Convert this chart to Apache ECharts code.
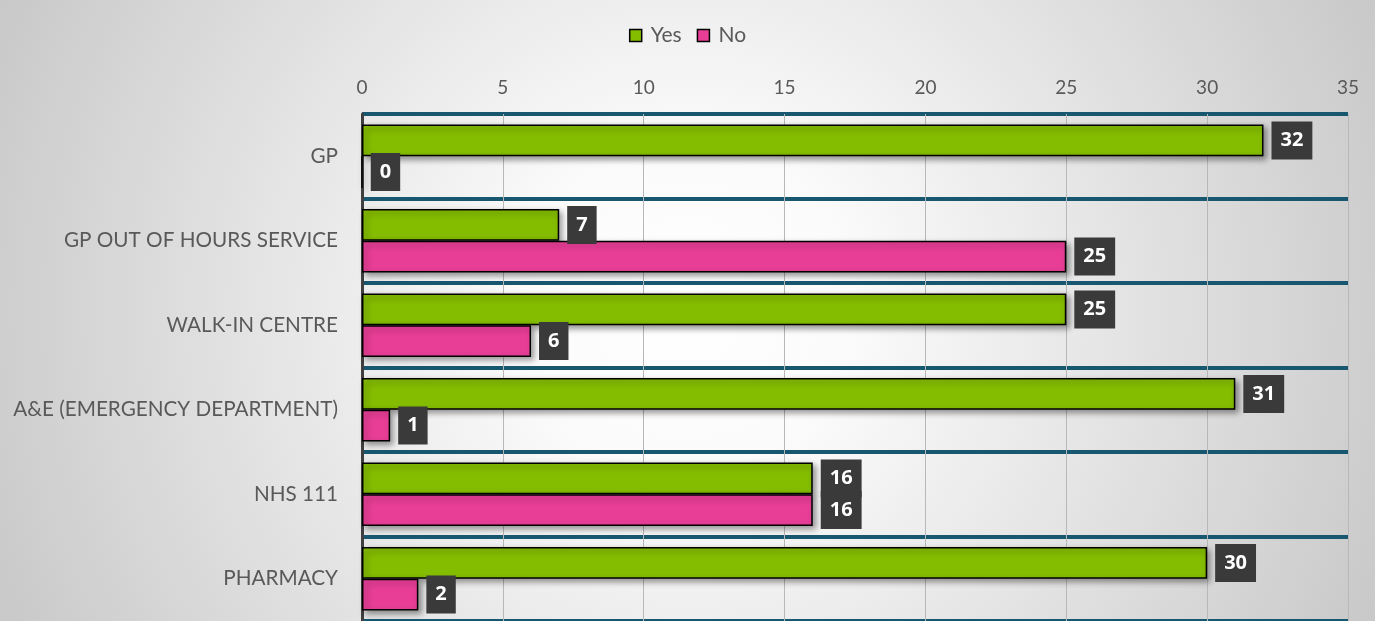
<!DOCTYPE html>
<html><head><meta charset="utf-8">
<script src="https://cdn.jsdelivr.net/npm/echarts@6/dist/echarts.min.js"></script>
<style>html,body{margin:0;padding:0;}#c{width:1375px;height:621px;}</style>
</head><body><div id="c"></div>
<script>
const categories = ['GP', 'GP OUT OF HOURS SERVICE', 'WALK-IN CENTRE', 'A&E (EMERGENCY DEPARTMENT)', 'NHS 111', 'PHARMACY'];
const yesValues = [32, 7, 25, 31, 16, 30];
const noValues = [0, 25, 6, 1, 16, 2];
const seriesNames = ['Yes', 'No'];
const xTicks = { min: 0, max: 35, interval: 5 };

const FONT = 'Lato, "Open Sans", sans-serif';
const label = {
  show: true, position: 'right', distance: 8,
  backgroundColor: '#3a3a3a', color: '#ffffff', fontWeight: 'bold',
  fontSize: 20, fontFamily: '"Open Sans", Lato, sans-serif', padding: [9, 9, 9, 9], lineHeight: 20
};
const barItem = (c) => ({
  color: c, borderColor: '#000', borderWidth: 1.5,
  shadowBlur: 6, shadowOffsetX: 3, shadowOffsetY: 3, shadowColor: 'rgba(0,0,0,0.4)'
});
const chart = echarts.init(document.getElementById('c'));
chart.setOption({
  backgroundColor: {
    type: 'radial', x: 0.5, y: 0.5, r: 1.3,
    colorStops: [{ offset: 0, color: '#ffffff' }, { offset: 0.2, color: '#fbfbfb' }, { offset: 1, color: '#c4c4c4' }]
  },
  animation: false,
  legend: {
    top: 20, left: 'center', itemWidth: 12, itemHeight: 12, itemGap: 15,
    icon: 'rect',
    itemStyle: { borderColor: '#000', borderWidth: 1.5, shadowBlur: 0, shadowOffsetX: 0, shadowOffsetY: 0 },
    textStyle: { fontFamily: FONT, fontSize: 21, color: '#595959', padding: [0, 0, 0, 4] },
    data: seriesNames
  },
  grid: { left: 362, right: 27, top: 114, bottom: -2, containLabel: false },
  xAxis: {
    type: 'value', position: 'top', min: xTicks.min, max: xTicks.max, interval: xTicks.interval,
    axisLine: { show: false }, axisTick: { show: false },
    axisLabel: { fontFamily: FONT, fontSize: 19, color: '#595959', margin: 17 },
    splitLine: { show: true, lineStyle: { color: '#b8b8b8', width: 1 } }
  },
  yAxis: {
    type: 'category', inverse: true, data: categories,
    axisLine: { show: true, lineStyle: { color: '#404040', width: 3 } },
    axisTick: { show: false },
    axisLabel: { fontFamily: FONT, fontSize: 20.7, color: '#595959', margin: 24 },
    splitLine: { show: true, lineStyle: { color: '#17576f', width: 4 } }
  },
  series: [
    { name: seriesNames[0], type: 'bar', data: yesValues, barGap: '0%', barCategoryGap: '25%',
      itemStyle: barItem('#84bd00'), label: label },
    { name: seriesNames[1], type: 'bar', data: noValues,
      itemStyle: barItem('#e83e96'), label: label }
  ]
});
</script></body></html>
